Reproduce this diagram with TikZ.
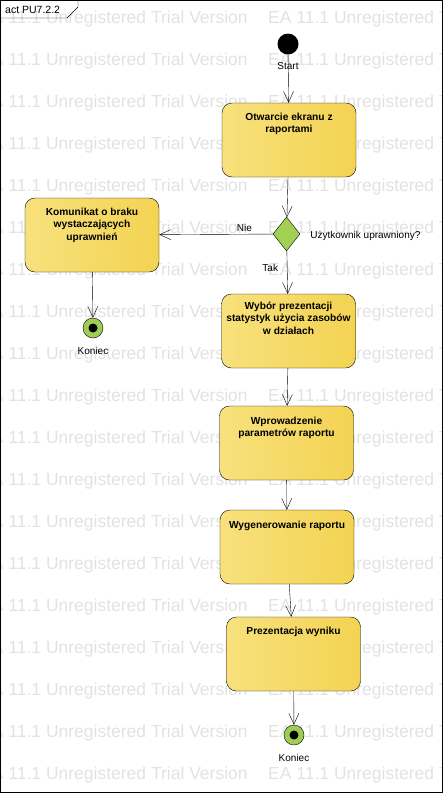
\documentclass[tikz,border=0pt]{standalone}
\usepackage{fontspec}
\setmainfont{Liberation Sans}
\usetikzlibrary{arrows.meta,positioning,shapes.geometric}

\definecolor{actleft}{RGB}{248,225,125}
\definecolor{actmid}{RGB}{251,236,168}
\definecolor{actright}{RGB}{243,211,82}
\definecolor{decfill}{RGB}{162,208,82}
\definecolor{endfill}{RGB}{158,204,84}
\definecolor{wmark}{RGB}{226,226,226}

\begin{document}
\begin{tikzpicture}[x=1pt,y=-1pt,>={Straight Barb[length=11pt,width=10pt]},
   action/.style={draw,rounded corners=10pt,minimum width=134pt,minimum height=74pt,
     left color=actleft,middle color=actmid,right color=actright},
   acttext/.style={font=\bfseries\fontsize{10.2}{12.5}\selectfont,align=center,inner sep=0pt},
   lbl/.style={font=\fontsize{10}{12}\selectfont,inner sep=0pt},
   initial/.style={circle,fill=black,minimum size=21pt,inner sep=0pt},
   final/.style={circle,draw,fill=endfill,minimum size=20pt,inner sep=0pt,
     path picture={\fill[black] (path picture bounding box.center) circle (4.5pt);}},
   decision/.style={diamond,draw,fill=decfill,aspect=0.8,minimum width=27pt,minimum height=34pt,inner sep=0pt}]
   \useasboundingbox (0,0) rectangle (443,793);
   % watermark
   \begin{scope}
     \clip (0,0) rectangle (443,793);
     \foreach \r in {0,...,18}
       \foreach \c/\x in {1/-20,2/268}
         \node[anchor=base west,inner sep=0pt,text=wmark,font=\fontsize{17.5}{20}\selectfont] (wm-\r-\c) at (\x,23+42*\r) {EA 11.1 Unregistered Trial Version};
   \end{scope}
   % frame
   \draw (0.5,0.5) rectangle (442,792);
   \draw (0.5,18) -- (67,18) -- (78,7) -- (78,0.5);
   \node[lbl,anchor=west,font=\fontsize{10.5}{12}\selectfont] (title) at (5,10) {act PU7.2.2};
   % nodes
   \node[initial] (start) at (288,44) {};
   \node[action] (otw) at (289,140) {};
   \node[decision] (dec) at (286.5,234) {};
   \node[action] (kom) at (92,235) {};
   \node[final] (end1) at (93,328) {};
   \node[action] (wyb) at (288.5,331) {};
   \node[action] (wpr) at (286.5,443) {};
   \node[action] (wyg) at (287,547) {};
   \node[action] (prez) at (293.5,654) {};
   \node[final] (end2) at (294,735) {};
   % texts
   \node[acttext,below=10pt of otw.north] (otw-t) {Otwarcie ekranu z\\raportami};
   \node[acttext,below=10pt of kom.north] (kom-t) {Komunikat o braku\\wystaczających\\uprawnień};
   \node[acttext,below=8pt of wyb.north] (wyb-t) {Wybór prezentacji\\statystyk użycia zasobów\\w działach};
   \node[acttext,below=11pt of wpr.north] (wpr-t) {Wprowadzenie\\parametrów raportu};
   \node[acttext,below=11pt of wyg.north] (wyg-t) {Wygenerowanie raportu};
   \node[acttext,below=10pt of prez.north] (prez-t) {Prezentacja wyniku};
   % flows
   \draw[->] (start) edge (otw)
     (otw) edge (dec)
     (dec) edge node[lbl,above=2pt,pos=0.25] {Nie} (kom)
     (dec) edge node[lbl,left=9pt,pos=0.4] {Tak} (wyb)
     (kom) edge (end1)
     (wyb) edge (wpr)
     (wpr) edge (wyg)
     (wyg) edge (prez)
     (prez) edge (end2);
   \node[lbl,below=8pt of start] (start-l) {Start};
   \node[lbl,below=9pt of end1] (end1-l) {Koniec};
   \node[lbl,below=9pt of end2] (end2-l) {Koniec};
   \node[lbl,right=10pt of dec,yshift=-2pt] (dec-l) {Użytkownik uprawniony?};
\end{tikzpicture}
\end{document}
